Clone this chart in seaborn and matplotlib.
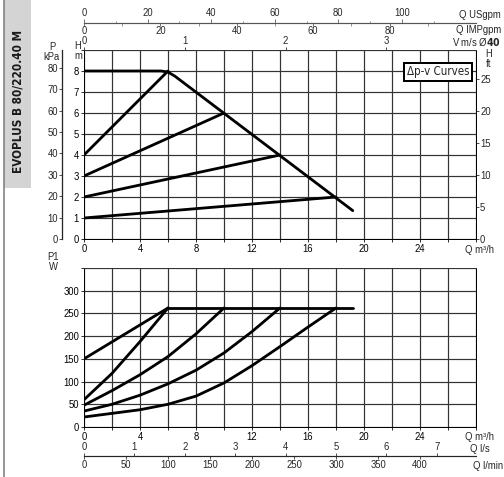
import numpy as np
import pandas as pd
import matplotlib
matplotlib.use('Agg')
import matplotlib.pyplot as plt
import seaborn as sns
from matplotlib.patches import Rectangle
from matplotlib.lines import Line2D

sns.set_style('white')
plt.rcParams['font.family'] = ['Liberation Sans', 'DejaVu Sans']

# --- data ---
# head curves (Q m3/h, H m)
head_max_q = [0, 5.5, 6.0, 6.5, 19.2]
head_max_h = [8, 8, 7.95, 7.75, 1.35]
head_curves = {
    'c1': ([0, 6], [4, 8]),
    'c2': ([0, 10], [3, 6]),
    'c3': ([0, 14], [2, 4]),
    'c4': ([0, 18], [1, 2]),
}
# power curves (Q m3/h, P1 W)
power_max_q = [6, 19.2]
power_max_p = [262, 262]
power_curves = {
    'p1': ([0, 6], [150, 262]),
    'p2': ([0, 2, 4, 6], [60, 118, 188, 262]),
    'p3': ([0, 2, 4, 6, 8, 10], [48, 80, 115, 155, 205, 262]),
    'p4': ([0, 2, 4, 6, 8, 10, 12, 14], [35, 50, 70, 95, 125, 163, 210, 262]),
    'p5': ([0, 2, 4, 6, 8, 10, 12, 14, 16, 18], [22, 30, 38, 50, 68, 97, 135, 177, 220, 262]),
}
q_labels = [0, 4, 8, 12, 16, 20, 24]
h_ticks = [0, 1, 2, 3, 4, 5, 6, 7, 8]
ft_ticks = [0, 5, 10, 15, 20, 25]
kpa_ticks = [0, 10, 20, 30, 40, 50, 60, 70, 80]
p_ticks = [0, 50, 100, 150, 200, 250, 300]
usgpm_ticks = [0, 20, 40, 60, 80, 100]
impgpm_ticks = [0, 20, 40, 60, 80]
v_ticks = [0, 1, 2, 3]
ls_ticks = [0, 1, 2, 3, 4, 5, 6, 7]
lmin_ticks = [0, 50, 100, 150, 200, 250, 300, 350, 400]

W, H = 504, 477
fig = plt.figure(figsize=(W / 72, H / 72), dpi=72)

def box(l, t, r, b):
    return [l / W, 1 - b / H, (r - l) / W, (b - t) / H]

ax1 = fig.add_axes(box(84, 50, 476, 239))
ax2 = fig.add_axes(box(84, 268, 476, 427))

fs = 9.5
narrow = ['DejaVu Sans', 'Liberation Sans']
grid_kw = dict(color='#333333', lw=1.2)

for ax in (ax1, ax2):
    ax.set_xlim(0, 28)
    ax.set_xticks(np.arange(0, 29, 2))
    ax.set_xticklabels([str(v) if v in q_labels else '' for v in range(0, 29, 2)], fontsize=fs)
    ax.tick_params(axis='both', direction='out', length=3, width=0.8, pad=2, labelsize=fs,
                   bottom=True, left=True, colors='black')
    ax.grid(True, **grid_kw)
    for s in ax.spines.values():
        s.set_color('black')
        s.set_linewidth(1)
    ax.spines['top'].set_color('#333333')
    ax.text(1.01, -0.06, 'Q m³/h', transform=ax.transAxes, ha='center', va='center', fontsize=fs)

# top: head
ax1.set_ylim(0, 9)
ax1.set_yticks(np.arange(0, 10, 1))
ax1.set_yticklabels([str(v) if v in h_ticks else '' for v in range(0, 10)])
ax1.tick_params(axis='y', length=3)
sns.lineplot(x=head_max_q, y=head_max_h, ax=ax1, color='black', lw=2.8, sort=False, estimator=None)
for q, h in head_curves.values():
    sns.lineplot(x=q, y=h, ax=ax1, color='black', lw=2.8, sort=False, estimator=None)
ax1.set_xlabel('')
ax1.set_ylabel('')

# ft axis on the right
ft = ax1.secondary_yaxis('right', functions=(lambda m: m * 3.28084, lambda f: f / 3.28084))
ft.set_yticks(ft_ticks)
ft.tick_params(direction='out', length=3, labelsize=fs, pad=1)
ft.spines['right'].set_linewidth(1)

# kPa axis on the left
kpa = ax1.secondary_yaxis(-0.056, functions=(lambda m: m * 9.80665, lambda k: k / 9.80665))
kpa.set_yticks(kpa_ticks)
kpa.tick_params(direction='out', length=3, labelsize=fs, pad=1)
kpa.spines['left'].set_linewidth(1.3)

# V m/s on top
vel = ax1.secondary_xaxis('top', functions=(lambda q: q / 7.2, lambda v: v * 7.2))
vel.set_xticks(v_ticks)
vel.tick_params(direction='out', length=3, labelsize=fs, pad=1)

# USgpm / IMPgpm line
us = ax1.secondary_xaxis(1.143, functions=(lambda q: q / 0.22712, lambda g: g * 0.22712))
us.set_xticks(usgpm_ticks)
us.set_xticks(np.arange(10, 120, 20), minor=True)
us.tick_params(which='major', direction='out', length=4, labelsize=fs, pad=1, color='#555')
us.tick_params(which='minor', direction='out', length=2.5, color='#555')
us.spines['top'].set_color('#555')
us.spines['top'].set_linewidth(1.2)

imp = ax1.secondary_xaxis(1.143, functions=(lambda q: q / 0.27277, lambda g: g * 0.27277))
imp.set_alignment('bottom')
imp.set_xticks(impgpm_ticks)
imp.set_xticks(np.arange(10, 100, 20), minor=True)
imp.tick_params(which='major', direction='out', length=3, labelsize=fs, pad=0, color='#555')
imp.tick_params(which='minor', direction='out', length=2.5, color='#555')
imp.spines['bottom'].set_visible(False)

# bottom: power
ax2.set_ylim(0, 350)
ax2.set_yticks(np.arange(0, 351, 50))
ax2.set_yticklabels([str(v) if v in p_ticks else '' for v in range(0, 351, 50)])
sns.lineplot(x=power_max_q, y=power_max_p, ax=ax2, color='black', lw=2.8, sort=False, estimator=None)
for q, p in power_curves.values():
    sns.lineplot(x=q, y=p, ax=ax2, color='black', lw=2.8, sort=False, estimator=None)
ax2.set_xlabel('')
ax2.set_ylabel('')

ls = ax2.secondary_xaxis(-0.182, functions=(lambda q: q / 3.6, lambda v: v * 3.6))
ls.set_alignment('top')
ls.set_xticks(ls_ticks)
ls.tick_params(direction='out', length=3, labelsize=fs, pad=1)
ls.spines['top'].set_linewidth(1.2)

lmin = ax2.secondary_xaxis(-0.182, functions=(lambda q: q / 0.06, lambda v: v * 0.06))
lmin.set_xticks(lmin_ticks)
lmin.tick_params(direction='out', length=3, labelsize=fs, pad=1)
lmin.spines['bottom'].set_visible(False)

# unit labels
def ftext(x, y, s, **kw):
    fig.text(x / W, 1 - y / H, s, fontsize=fs, **kw)

ftext(501, 15, 'Q USgpm', ha='right', va='center')
ftext(501, 30, 'Q IMPgpm', ha='right', va='center')
ftext(501, 42, 'V m/s Ø$\\mathbf{40}$', ha='right', va='center')
ftext(52, 52, 'P\nkPa', ha='center', va='center', linespacing=0.9)
ftext(78, 51, 'H\nm', ha='center', va='center', linespacing=0.9)
ftext(489, 59, 'H\nft', ha='center', va='center', linespacing=0.9)
ftext(53, 262, 'P1\nW', ha='center', va='center', linespacing=0.9)
ftext(490, 449, 'Q l/s', ha='right', va='center')
ftext(503, 466, 'Q l/min', ha='right', va='center')

# legend box
ax1.text(0.903, 0.884, 'Δp-v Curves', transform=ax1.transAxes, ha='center', va='center',
         fontsize=11.5, family=narrow, fontstretch='condensed',
         bbox=dict(boxstyle='square,pad=0.22', fc='white', ec='black', lw=2))

# left title band
fig.add_artist(Rectangle((4 / W, 1 - 188 / H), 27 / W, 188 / H, transform=fig.transFigure,
                         fc='#d4d4d4', ec='none'))
fig.add_artist(Line2D([3.5 / W, 3.5 / W], [0, 1], transform=fig.transFigure, color='#777', lw=1.5))
fig.text(18 / W, 1 - 101 / H, 'EVOPLUS B 80/220.40 M', rotation=90, ha='center', va='center',
         fontsize=11.8, fontweight='bold', family=narrow, fontstretch='condensed', color='#1a1a1a')

fig.savefig('out.png', dpi=72)
